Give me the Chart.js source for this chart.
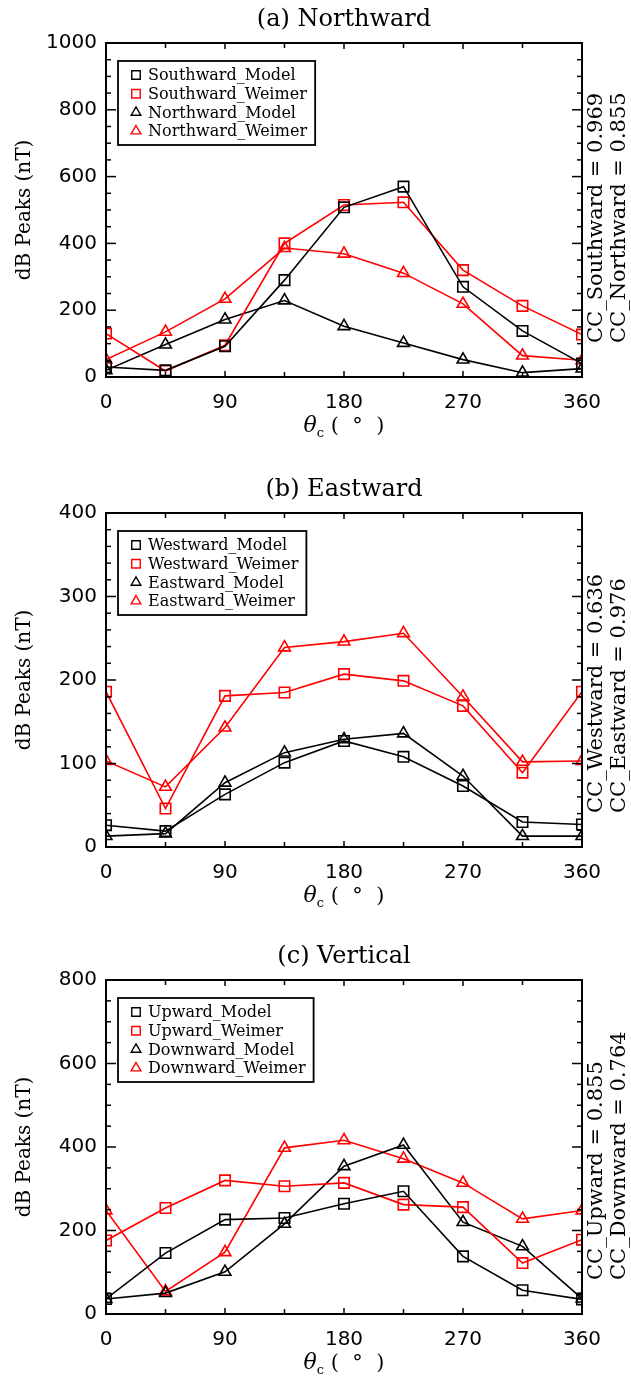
<!DOCTYPE html>
<html>
<head>
<meta charset="utf-8">
<script src="https://cdn.jsdelivr.net/npm/chart.js@4.4.0/dist/chart.umd.min.js"></script>
<style>
  body { margin: 0; background: #fff; width: 631px; height: 1379px; position: relative; overflow: hidden; }
  .panel { position: absolute; left: 0; width: 631px; height: 465px; }
</style>
</head>
<body>
<div class="panel" style="top:0px"><canvas id="chartA" width="631" height="465"></canvas></div>
<div class="panel" style="top:470px"><canvas id="chartB" width="631" height="465"></canvas></div>
<div class="panel" style="top:937px"><canvas id="chartC" width="631" height="465"></canvas></div>
<script>
// clock angle of IMF, degrees
const theta = [0, 45, 90, 135, 180, 225, 270, 315, 360];

// (a) Northward dB peaks (nT)
const southwardModel  = [30, 20, 92, 290, 508, 570, 270, 138, 40];
const southwardWeimer = [130, 18, 95, 400, 515, 523, 320, 213, 127];
const northwardModel  = [20, 97, 172, 229, 152, 102, 52, 13, 25];
const northwardWeimer = [52, 135, 234, 386, 369, 311, 219, 64, 50];

// (b) Eastward
const westwardModel  = [26, 19, 63, 101, 127, 108, 73, 30, 27];
const westwardWeimer = [186, 46, 181, 185, 207, 199, 169, 89, 186];
const eastwardModel  = [13, 16, 77, 113, 129, 136, 85, 13, 13];
const eastwardWeimer = [103, 72, 143, 239, 246, 256, 180, 102, 103];

// (c) Vertical
const upwardModel    = [36, 146, 226, 230, 264, 294, 138, 57, 35];
const upwardWeimer   = [176, 254, 320, 306, 314, 262, 256, 122, 178];
const downwardModel  = [36, 50, 101, 216, 354, 405, 220, 162, 37];
const downwardWeimer = [248, 54, 148, 398, 416, 372, 314, 228, 248];

// tick labels
const xTickLabels = [0, 90, 180, 270, 360];
const yTicksA = [0, 200, 400, 600, 800, 1000];
const yTicksB = [0, 100, 200, 300, 400];
const yTicksC = [0, 200, 400, 600, 800];

const RED = '#ff0000';
const BLACK = '#000000';

function pts(ys) {
    return theta.map((t, i) => ({ x: t, y: ys[i] }));
}

function series(label, ys, color, style) {
    return {
        label: label,
        data: pts(ys),
        borderColor: color,
        borderWidth: 1.6,
        pointStyle: style,
        pointRadius: style === 'rect' ? 7.4 : 6.8,
        pointBorderColor: color,
        pointBackgroundColor: 'rgba(0,0,0,0)',
        pointBorderWidth: 1.6,
        tension: 0,
        fill: false,
        clip: 0
    };
}

// frame, inward ticks, titles, legend box and CC labels
const panelDecor = {
    id: 'panelDecor',
    afterDraw(chart) {
        const o = chart.options.plugins.panelDecor;
        const ctx = chart.ctx;
        const a = chart.chartArea;
        const xs = chart.scales.x, ys = chart.scales.y;
        const cx = (a.left + a.right) / 2;
        const cy = (a.top + a.bottom) / 2;

        function seg(x1, y1, x2, y2) {
            ctx.beginPath(); ctx.moveTo(x1, y1); ctx.lineTo(x2, y2); ctx.stroke();
        }

        ctx.save();
        ctx.strokeStyle = BLACK;
        ctx.fillStyle = BLACK;
        ctx.lineWidth = 2;
        ctx.strokeRect(a.left, a.top, a.right - a.left, a.bottom - a.top);

        ctx.lineWidth = 1.5;
        ys.ticks.forEach(t => {
            const py = ys.getPixelForValue(t.value);
            const len = o.yMajor.includes(t.value) ? 10 : 5;
            seg(a.left, py, a.left + len, py);
            seg(a.right, py, a.right - len, py);
        });
        xs.ticks.forEach(t => {
            const px = xs.getPixelForValue(t.value);
            const len = xTickLabels.includes(t.value) ? 6 : 5;
            seg(px, a.bottom, px, a.bottom - len);
            seg(px, a.top, px, a.top + len);
        });

        // panel title
        ctx.font = '24px "DejaVu Serif"';
        ctx.textAlign = 'center';
        ctx.textBaseline = 'middle';
        ctx.fillText(o.title, cx, a.top - 23);

        // y axis title
        ctx.save();
        ctx.translate(25, cy);
        ctx.rotate(-Math.PI / 2);
        ctx.font = '20px "DejaVu Serif"';
        ctx.fillText('dB Peaks (nT)', 0, 0);
        ctx.restore();

        // x axis title: theta_c ( ° )
        const base = a.bottom + 55;
        ctx.textAlign = 'left';
        ctx.textBaseline = 'alphabetic';
        const fTh = 'italic 22px "DejaVu Serif"', fSub = '13px "DejaVu Serif"', fRest = '21px "DejaVu Serif"';
        const rest = ' (  \u00b0  )';
        ctx.font = fTh; const w1 = ctx.measureText('\u03b8').width;
        ctx.font = fSub; const w2 = ctx.measureText('c').width;
        ctx.font = fRest; const w3 = ctx.measureText(rest).width;
        let x0 = cx - (w1 + w2 + w3) / 2;
        ctx.font = fTh; ctx.fillText('\u03b8', x0, base);
        ctx.font = fSub; ctx.fillText('c', x0 + w1, base + 5);
        ctx.font = fRest; ctx.fillText(rest, x0 + w1 + w2, base);

        // CC labels, rotated
        ctx.font = '21px "DejaVu Serif"';
        ctx.textBaseline = 'middle';
        o.cc.forEach((txt, i) => {
            ctx.save();
            ctx.translate(a.right + 15 + i * 23, a.bottom - 34);
            ctx.rotate(-Math.PI / 2);
            ctx.textAlign = 'left';
            ctx.fillText(txt, 0, 0);
            ctx.restore();
        });

        // legend
        const ds = chart.data.datasets;
        ctx.font = '16px "DejaVu Serif"';
        let maxW = 0;
        ds.forEach(d => { maxW = Math.max(maxW, ctx.measureText(d.label).width); });
        const bx = a.left + 12, by = a.top + 18;
        ctx.lineWidth = 1.8;
        ctx.strokeRect(bx, by, 30 + maxW + 8, 84);
        ds.forEach((d, i) => {
            const ry = a.top + 32 + i * 18.7;
            ctx.strokeStyle = d.borderColor;
            ctx.fillStyle = 'rgba(0,0,0,0)';
            ctx.lineWidth = 1.4;
            Chart.helpers.drawPoint(ctx, {
                pointStyle: d.pointStyle,
                radius: d.pointStyle === 'rect' ? 6 : 5.6,
                rotation: 0,
                borderWidth: 1.4
            }, bx + 18, ry);
            ctx.fillStyle = BLACK;
            ctx.textAlign = 'left';
            ctx.fillText(d.label, bx + 30, ry + 1);
        });
        ctx.restore();
    }
};

function makePanel(id, cfg) {
    const ctx = document.getElementById(id).getContext('2d');
    return new Chart(ctx, {
        type: 'line',
        data: { datasets: cfg.datasets },
        options: {
            responsive: false,
            animation: false,
            devicePixelRatio: 1,
            layout: { padding: { top: 43, right: 49, left: 0, bottom: 0 } },
            scales: {
                x: {
                    type: 'linear',
                    min: 0,
                    max: 360,
                    afterFit: s => { s.height = 88; },
                    grid: { display: false, drawTicks: false },
                    border: { display: false },
                    ticks: {
                        stepSize: 45,
                        autoSkip: false,
                        maxRotation: 0,
                        padding: 14,
                        color: BLACK,
                        font: { family: 'DejaVu Sans', size: 20 },
                        callback: v => xTickLabels.includes(v) ? String(v) : ''
                    }
                },
                y: {
                    min: 0,
                    max: cfg.yMax,
                    afterFit: s => { s.width = 106; },
                    grid: { display: false, drawTicks: false },
                    border: { display: false },
                    ticks: {
                        stepSize: cfg.yMinor,
                        autoSkip: false,
                        padding: 9,
                        color: BLACK,
                        font: { family: 'DejaVu Sans', size: 20 },
                        callback: v => cfg.yMajor.includes(v) ? String(v) : ''
                    }
                }
            },
            plugins: {
                legend: { display: false },
                tooltip: { enabled: false },
                panelDecor: { title: cfg.title, yMajor: cfg.yMajor, cc: cfg.cc }
            }
        },
        plugins: [panelDecor]
    });
}

makePanel('chartA', {
    title: '(a) Northward',
    yMax: 1000, yMinor: 50, yMajor: yTicksA,
    cc: ['CC_Southward = 0.969', 'CC_Northward = 0.855'],
    datasets: [
        series('Southward_Model', southwardModel, BLACK, 'rect'),
        series('Southward_Weimer', southwardWeimer, RED, 'rect'),
        series('Northward_Model', northwardModel, BLACK, 'triangle'),
        series('Northward_Weimer', northwardWeimer, RED, 'triangle')
    ]
});

makePanel('chartB', {
    title: '(b) Eastward',
    yMax: 400, yMinor: 20, yMajor: yTicksB,
    cc: ['CC_Westward = 0.636', 'CC_Eastward = 0.976'],
    datasets: [
        series('Westward_Model', westwardModel, BLACK, 'rect'),
        series('Westward_Weimer', westwardWeimer, RED, 'rect'),
        series('Eastward_Model', eastwardModel, BLACK, 'triangle'),
        series('Eastward_Weimer', eastwardWeimer, RED, 'triangle')
    ]
});

makePanel('chartC', {
    title: '(c) Vertical',
    yMax: 800, yMinor: 50, yMajor: yTicksC,
    cc: ['CC_Upward = 0.855', 'CC_Downward = 0.764'],
    datasets: [
        series('Upward_Model', upwardModel, BLACK, 'rect'),
        series('Upward_Weimer', upwardWeimer, RED, 'rect'),
        series('Downward_Model', downwardModel, BLACK, 'triangle'),
        series('Downward_Weimer', downwardWeimer, RED, 'triangle')
    ]
});
</script>
</body>
</html>
